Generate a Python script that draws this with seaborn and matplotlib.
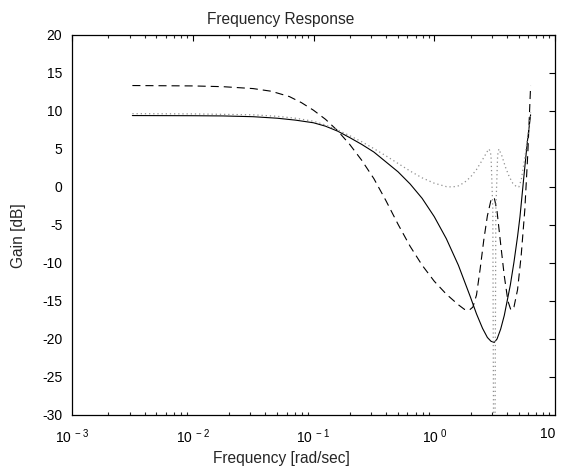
import numpy as np
import pandas as pd
import matplotlib
matplotlib.use("Agg")
import matplotlib.pyplot as plt
import seaborn as sns
from matplotlib.ticker import LogLocator, NullFormatter

# ---- data (log10 of frequency, gain in dB) ----
solid_logw = [-2.5, -2.0, -1.75, -1.5, -1.3, -1.15, -1.0, -0.9, -0.8, -0.7, -0.6, -0.5, -0.4,
              -0.3, -0.2, -0.1, 0.0, 0.1, 0.2, 0.3, 0.35, 0.4, 0.44, 0.47, 0.497, 0.52, 0.55,
              0.58, 0.6, 0.63, 0.66, 0.69, 0.71, 0.74, 0.77, 0.798]
solid_gain = [9.4, 9.38, 9.35, 9.25, 9.05, 8.8, 8.45, 8.0, 7.35, 6.5, 5.6, 4.6, 3.3,
              2.0, 0.4, -1.5, -3.9, -6.8, -10.3, -14.5, -16.7, -18.6, -19.8, -20.3, -20.45, -20.0, -18.7,
              -16.9, -15.3, -12.9, -9.9, -6.5, -3.9, 1.0, 5.8, 9.5]

dashed_logw = [-2.5, -2.0, -1.75, -1.5, -1.35, -1.2, -1.1, -1.0, -0.9, -0.8, -0.7, -0.6, -0.5,
               -0.4, -0.3, -0.2, -0.1, 0.0, 0.1, 0.2, 0.25, 0.29, 0.32, 0.35, 0.38, 0.41, 0.44,
               0.47, 0.497, 0.52, 0.55, 0.58, 0.61, 0.635, 0.66, 0.69, 0.72, 0.75, 0.775, 0.798]
dashed_gain = [13.35, 13.3, 13.2, 12.95, 12.6, 11.9, 11.1, 10.1, 8.9, 7.4, 5.6, 3.5, 1.1,
               -1.8, -4.9, -7.8, -10.3, -12.4, -14.1, -15.5, -16.1, -16.2, -15.8, -14.2, -10.8, -7.0, -3.8,
               -1.7, -1.4, -3.2, -7.5, -11.7, -15.0, -16.2, -15.8, -13.5, -9.0, -3.0, 4.5, 13.3]

dotted_logw = [-2.5, -2.0, -1.5, -1.3, -1.15, -1.0, -0.9, -0.8, -0.7, -0.6, -0.5, -0.4, -0.3,
               -0.2, -0.1, 0.0, 0.1, 0.15, 0.2, 0.25, 0.3, 0.35, 0.4, 0.44, 0.455, 0.47, 0.485,
               0.497, 0.51, 0.525, 0.535, 0.56, 0.59, 0.62, 0.65, 0.68, 0.70, 0.72, 0.75, 0.775, 0.798]
dotted_gain = [9.65, 9.62, 9.5, 9.3, 9.05, 8.65, 8.15, 7.5, 6.75, 5.95, 5.05, 4.1, 3.1,
               2.1, 1.2, 0.5, 0.05, 0.0, 0.15, 0.6, 1.3, 2.3, 3.6, 4.7, 5.0, 4.2, -3.0,
               -60.0, -3.0, 4.2, 5.0, 4.1, 2.6, 1.4, 0.5, 0.05, 0.0, 0.9, 3.8, 6.8, 9.8]

xtick_exps = [-3, -2, -1, 0, 1]
ytick_vals = [20, 15, 10, 5, 0, -5, -10, -15, -20, -25, -30]

title = "Frequency Response"
xlabel = "Frequency [rad/sec]"
ylabel = "Gain [dB]"

# ---- styling ----
sns.set_style("white")
plt.rcParams["font.family"] = ["Liberation Sans", "DejaVu Sans"]
plt.rcParams["mathtext.fontset"] = "custom"
plt.rcParams["mathtext.rm"] = "Liberation Sans"
plt.rcParams["mathtext.it"] = "Liberation Sans"
plt.rcParams["lines.scale_dashes"] = False

FS = 11.2
TFS = 10

fig = plt.figure(figsize=(5.62, 4.66), dpi=100)
ax = fig.add_axes([72 / 562, 1 - 415 / 466, (555 - 72) / 562, (415 - 35) / 466])

df_s = pd.DataFrame({"w": np.power(10.0, solid_logw), "g": solid_gain})
df_d = pd.DataFrame({"w": np.power(10.0, dashed_logw), "g": dashed_gain})
df_o = pd.DataFrame({"w": np.power(10.0, dotted_logw), "g": dotted_gain})

sns.lineplot(data=df_s, x="w", y="g", ax=ax, color="black", lw=0.8, estimator=None, sort=False)
sns.lineplot(data=df_d, x="w", y="g", ax=ax, color="black", lw=0.8, estimator=None, sort=False)
sns.lineplot(data=df_o, x="w", y="g", ax=ax, color="#909090", lw=0.9, estimator=None, sort=False)
lines = ax.get_lines()
lines[1].set_dashes((5.8, 3.6))
lines[2].set_linestyle((0, (0.9, 2.1)))

ax.set_xscale("log")
ax.set_xlim(10.0 ** xtick_exps[0], 10.0 ** xtick_exps[-1])
ax.set_ylim(min(ytick_vals), max(ytick_vals))
ax.set_xticks([10.0 ** e for e in xtick_exps])
xlabels = [r"$\mathregular{10^{\ %d}}$" % e for e in xtick_exps[:-1]] + ["10"]
ax.set_xticklabels(xlabels)
ax.xaxis.set_minor_locator(LogLocator(base=10, subs=np.arange(2, 10), numticks=20))
ax.xaxis.set_minor_formatter(NullFormatter())
ax.set_yticks(ytick_vals)
ax.set_yticklabels([str(v) for v in ytick_vals])

ax.tick_params(axis="both", which="major", direction="in", length=4.5, width=0.8,
               top=True, right=True, labelsize=TFS, pad=7, colors="black")
ax.tick_params(axis="x", which="minor", direction="in", length=2.2, width=0.8, top=True, bottom=True)
ax.tick_params(axis="x", which="major", pad=9)
ax.get_xticklabels()[-1].set_ha("right")
for s in ax.spines.values():
    s.set_linewidth(0.9)
    s.set_color("black")

cx = (281 - 72) / 483
ax.set_title(title, fontsize=FS, x=cx, y=(415 - 19) / 380, va="center", pad=0)
ax.set_xlabel(xlabel, fontsize=FS)
ax.xaxis.set_label_coords(cx, (415 - 458) / 380)
ax.xaxis.label.set_va("center")
ax.set_ylabel(ylabel, fontsize=FS)
ax.yaxis.set_label_coords((18 - 72) / 483, (415 - 236) / 380)
ax.yaxis.label.set_va("center")

fig.savefig("out.png", dpi=100)
